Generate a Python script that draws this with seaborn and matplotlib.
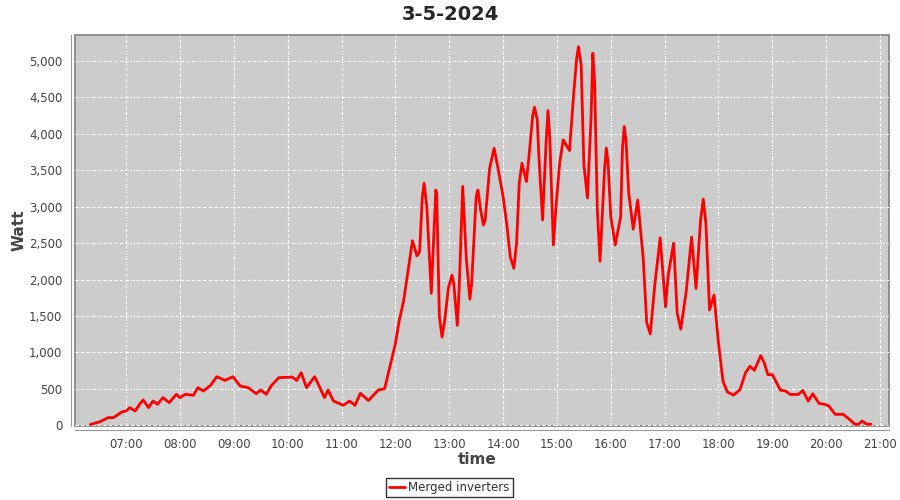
import pandas as pd
import matplotlib
matplotlib.use("Agg")
import matplotlib.pyplot as plt
import matplotlib.dates as mdates
from matplotlib.ticker import FuncFormatter, MultipleLocator
import seaborn as sns

# readings of 3-5-2024, merged inverters
times = [
    "06:20", "06:31", "06:40", "06:46", "06:55", "07:00", "07:04", "07:10", "07:15", "07:19",
    "07:25", "07:30", "07:35", "07:41", "07:48", "07:56", "08:00", "08:06", "08:15", "08:20",
    "08:26", "08:34", "08:41", "08:50", "08:59", "09:07", "09:16", "09:25", "09:30", "09:36",
    "09:42", "09:50", "10:05", "10:10", "10:15", "10:21", "10:30", "10:35", "10:41", "10:45",
    "10:51", "11:02", "11:09", "11:15", "11:21", "11:30", "11:41", "11:48", "11:54", "12:00",
    "12:04", "12:09", "12:14", "12:19", "12:24", "12:27", "12:30", "12:32", "12:35", "12:38",
    "12:40", "12:45", "12:46", "12:49", "12:52", "12:55", "12:59", "13:03", "13:05", "13:09",
    "13:11", "13:15", "13:19", "13:23", "13:25", "13:30", "13:32", "13:35", "13:38", "13:40",
    "13:45", "13:50", "13:54", "14:00", "14:04", "14:08", "14:12", "14:15", "14:18", "14:21",
    "14:26", "14:29", "14:33", "14:35", "14:38", "14:40", "14:44", "14:48", "14:50", "14:52",
    "14:56", "14:59", "15:03", "15:07", "15:14", "15:19", "15:22", "15:24", "15:27", "15:30",
    "15:34", "15:38", "15:40", "15:42", "15:45", "15:48", "15:53", "15:55", "15:57", "16:00",
    "16:05", "16:11", "16:13", "16:15", "16:17", "16:20", "16:25", "16:30", "16:36", "16:40",
    "16:44", "16:49", "16:55", "17:01", "17:04", "17:10", "17:14", "17:18", "17:24", "17:30",
    "17:35", "17:40", "17:43", "17:46", "17:50", "17:55", "18:00", "18:05", "18:10", "18:17",
    "18:24", "18:30", "18:35", "18:40", "18:47", "18:51", "18:55", "19:00", "19:09", "19:15",
    "19:20", "19:29", "19:34", "19:40", "19:45", "19:52", "19:59", "20:03", "20:10", "20:19",
    "20:25", "20:32", "20:36", "20:40", "20:45", "20:50",
]
watts = [
    10, 50, 105, 105, 182, 195, 242, 196, 288, 347,
    242, 333, 288, 379, 311, 425, 379, 425, 411, 516,
    470, 548, 667, 616, 667, 539, 516, 434, 484, 425,
    548, 653, 662, 616, 721, 516, 667, 539, 379, 484,
    333, 274, 333, 274, 438, 340, 484, 502, 812, 1120,
    1420, 1697, 2109, 2534, 2324, 2383, 3138, 3321, 3001, 2300,
    1811, 3229, 3184, 1491, 1210, 1445, 1880, 2060, 1949, 1370,
    1857, 3279, 2292, 1730, 1949, 3138, 3229, 2955, 2749, 2818,
    3527, 3801, 3550, 3138, 2772, 2310, 2154, 2497, 3321, 3596,
    3344, 3710, 4250, 4364, 4200, 3664, 2818, 3900, 4318, 3961,
    2475, 3001, 3596, 3916, 3769, 4602, 5037, 5196, 4945, 3575,
    3119, 4215, 5105, 4700, 2955, 2251, 3500, 3804, 3600, 2864,
    2475, 2864, 3800, 4099, 3900, 3184, 2690, 3092, 2314, 1409,
    1253, 1923, 2573, 1627, 2059, 2500, 1536, 1318, 1832, 2582,
    1877, 2809, 3104, 2763, 1582, 1786, 1127, 605, 455, 414,
    491, 718, 809, 755, 955, 855, 695, 695, 482, 468,
    423, 423, 477, 332, 432, 300, 286, 264, 150, 150,
    91, 14, 14, 59, 14, 14,
]

df = pd.DataFrame({
    "time": pd.to_datetime(["2024-05-03 " + t for t in times]),
    "Watt": watts,
})
df["series"] = "Merged inverters"

sns.set_style("white")
plt.rcParams["font.family"] = ["DejaVu Sans"]

fig = plt.figure(figsize=(9, 5), dpi=100)
ax = fig.add_axes([0.0833, 0.148, 0.9045, 0.782])

sns.lineplot(data=df, x="time", y="Watt", hue="series", palette=["#ff0000"],
             linewidth=2, ax=ax, solid_joinstyle="round")

ax.set_facecolor("#cccccc")
ax.grid(True, color="white", linestyle=(0, (3, 2)), linewidth=0.8)
ax.set_axisbelow(True)

ax.set_xlim(pd.Timestamp("2024-05-03 06:03"), pd.Timestamp("2024-05-03 21:10"))
ax.set_ylim(-10, 5356)
ax.xaxis.set_major_locator(mdates.HourLocator())
ax.xaxis.set_major_formatter(mdates.DateFormatter("%H:%M"))
ax.yaxis.set_major_locator(MultipleLocator(500))
ax.yaxis.set_major_formatter(FuncFormatter(lambda v, p: f"{int(v):,}"))

for side in ["top", "right"]:
    ax.spines[side].set_visible(False)
for side in ["left", "bottom"]:
    ax.spines[side].set_position(("outward", 3))
    ax.spines[side].set_color("#999999")
# plot area outline
ax.patch.set_edgecolor("#808080")
ax.patch.set_linewidth(1.2)

ax.tick_params(axis="both", colors="#999999", labelcolor="#444444",
               labelsize=8.5, length=3, width=0.8, pad=3)

ax.set_xlabel("time", fontsize=11, fontweight="bold", color="#444444")
ax.set_ylabel("Watt", fontsize=11, fontweight="bold", color="#444444")
ax.xaxis.set_label_coords(0.4935, -0.066)
ax.yaxis.set_label_coords(-0.059, 0.5)
fig.suptitle("3-5-2024", fontsize=14, fontweight="bold", y=0.99)

leg = ax.legend(loc="center", bbox_to_anchor=(449.5 / 900, 1 - 487.5 / 500),
                bbox_transform=fig.transFigure, frameon=True,
                fancybox=False, fontsize=8.5, handlelength=1.3, handletextpad=0.3,
                borderpad=0.25, borderaxespad=0)
leg.get_frame().set_edgecolor("black")
leg.get_frame().set_linewidth(1)
for t in leg.get_texts():
    t.set_color("#333333")

fig.savefig("out.png", dpi=100)
